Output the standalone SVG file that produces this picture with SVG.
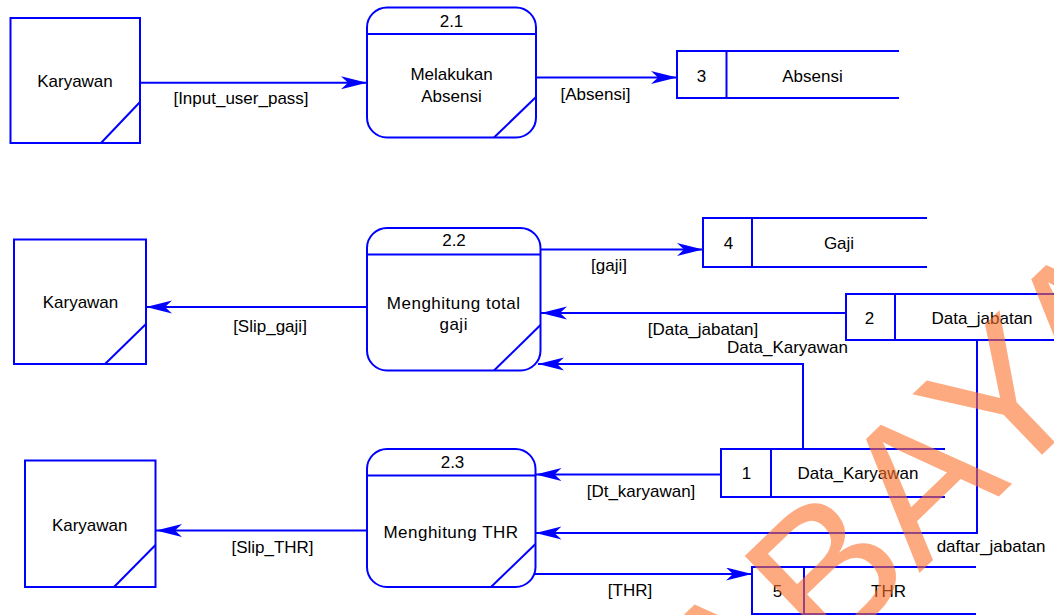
<svg xmlns="http://www.w3.org/2000/svg" width="1054" height="615" viewBox="0 0 1054 615">
  <defs>
    <marker id="arrow" markerUnits="userSpaceOnUse" markerWidth="28" markerHeight="14" refX="26" refY="6.5" orient="auto">
      <path d="M0,0 L26,6.5 L0,13 L7,6.5 Z" fill="#0000ff"/>
    </marker>
    <style>
      .shape { fill: #ffffff; stroke: #0000ff; stroke-width: 2; }
      .line { fill: none; stroke: #0000ff; stroke-width: 2; }
      .flow { fill: none; stroke: #0000ff; stroke-width: 2; marker-end: url(#arrow); }
      text { font-family: "Liberation Sans", Arial, sans-serif; font-size: 17px; fill: #000000; text-anchor: middle; }
      .mark { font-size: 194px; fill: #fc712b; fill-opacity: 0.6; text-anchor: start; }
    </style>
  </defs>
  <rect width="1054" height="615" fill="#ffffff"/>

  <!-- connectors -->
  <g id="connectors">
    <line class="flow" x1="140" y1="82.7" x2="367" y2="82.7"/>
    <line class="flow" x1="536" y1="77.5" x2="677" y2="77.5"/>
    <line class="flow" x1="367" y1="307" x2="146" y2="307"/>
    <line class="flow" x1="540.5" y1="249.5" x2="703" y2="249.5"/>
    <line class="flow" x1="846" y1="313" x2="541" y2="313"/>
    <polyline class="flow" points="803,449 803,364 538,364"/>
    <line class="flow" x1="367" y1="530.5" x2="156" y2="530.5"/>
    <line class="flow" x1="721" y1="474.5" x2="535.5" y2="474.5"/>
    <polyline class="flow" points="977,340 977,533 535.5,533"/>
    <line class="flow" x1="534" y1="574" x2="752" y2="574"/>

    <text x="241" y="104">[Input_user_pass]</text>
    <text x="595.5" y="100">[Absensi]</text>
    <text x="270" y="332">[Slip_gaji]</text>
    <text x="609" y="271">[gaji]</text>
    <text x="703" y="335">[Data_jabatan]</text>
    <text x="787.5" y="353">Data_Karyawan</text>
    <text x="272.5" y="553">[Slip_THR]</text>
    <text x="641" y="497">[Dt_karyawan]</text>
    <text x="991" y="552">daftar_jabatan</text>
    <text x="630" y="596">[THR]</text>
  </g>

  <!-- external entities -->
  <g id="karyawan-1">
    <rect class="shape" x="10.5" y="18" width="129.5" height="125"/>
    <line class="line" x1="101" y1="143" x2="140" y2="102"/>
    <text x="75" y="87">Karyawan</text>
  </g>
  <g id="karyawan-2">
    <rect class="shape" x="14" y="239.5" width="132" height="124.5"/>
    <line class="line" x1="105" y1="364" x2="146" y2="324"/>
    <text x="80.5" y="308">Karyawan</text>
  </g>
  <g id="karyawan-3">
    <rect class="shape" x="25" y="460.5" width="130.5" height="126.5"/>
    <line class="line" x1="114" y1="587" x2="155.5" y2="545"/>
    <text x="89.7" y="531">Karyawan</text>
  </g>

  <!-- processes -->
  <g id="process-2-1">
    <rect class="shape" x="367" y="7.5" width="169" height="130" rx="20" ry="20"/>
    <line class="line" x1="367" y1="34" x2="536" y2="34"/>
    <line class="line" x1="494" y1="137.5" x2="536" y2="97"/>
    <text x="451.5" y="27">2.1</text>
    <text x="451.5" y="80">Melakukan</text>
    <text x="451.5" y="101.7">Absensi</text>
  </g>
  <g id="process-2-2">
    <rect class="shape" x="367" y="228" width="173.5" height="142.5" rx="20" ry="20"/>
    <line class="line" x1="367" y1="254.5" x2="540.5" y2="254.5"/>
    <line class="line" x1="494" y1="370.5" x2="540.5" y2="325"/>
    <text x="454" y="246">2.2</text>
    <text x="453.7" y="309" letter-spacing="0.5">Menghitung total</text>
    <text x="453.7" y="330" letter-spacing="0.5">gaji</text>
  </g>
  <g id="process-2-3">
    <rect class="shape" x="367" y="449" width="168.5" height="138" rx="20" ry="20"/>
    <line class="line" x1="367" y1="475.5" x2="535.5" y2="475.5"/>
    <line class="line" x1="491" y1="587" x2="535.5" y2="544"/>
    <text x="452.5" y="468">2.3</text>
    <text x="451" y="538" letter-spacing="0.5">Menghitung THR</text>
  </g>

  <!-- data stores -->
  <g id="store-3">
    <path class="line" d="M899,51 H677 V98 H899 M726.5,51 V98"/>
    <text x="701.5" y="82">3</text>
    <text x="812.5" y="82">Absensi</text>
  </g>
  <g id="store-4">
    <path class="line" d="M927,218 H703 V267 H927 M752,218 V267"/>
    <text x="728.5" y="248.5">4</text>
    <text x="839" y="248.5">Gaji</text>
  </g>
  <g id="store-2">
    <path class="line" d="M1054,294 H846 V340 H1054 M895,294 V340"/>
    <text x="869.5" y="324">2</text>
    <text x="982" y="324">Data_jabatan</text>
  </g>
  <g id="store-1">
    <path class="line" d="M945,449 H721 V497 H945 M771,449 V497"/>
    <text x="746.5" y="478.5">1</text>
    <text x="858" y="478.5">Data_Karyawan</text>
  </g>
  <g id="store-5">
    <path class="line" d="M976,567 H752 V614 H976 M804,567 V614"/>
    <text x="777.5" y="597">5</text>
    <text x="888.5" y="597">THR</text>
  </g>

  <!-- watermark -->
  <text class="mark" transform="translate(733,753) rotate(-44)" x="0" y="0">ABAYA</text>
</svg>
